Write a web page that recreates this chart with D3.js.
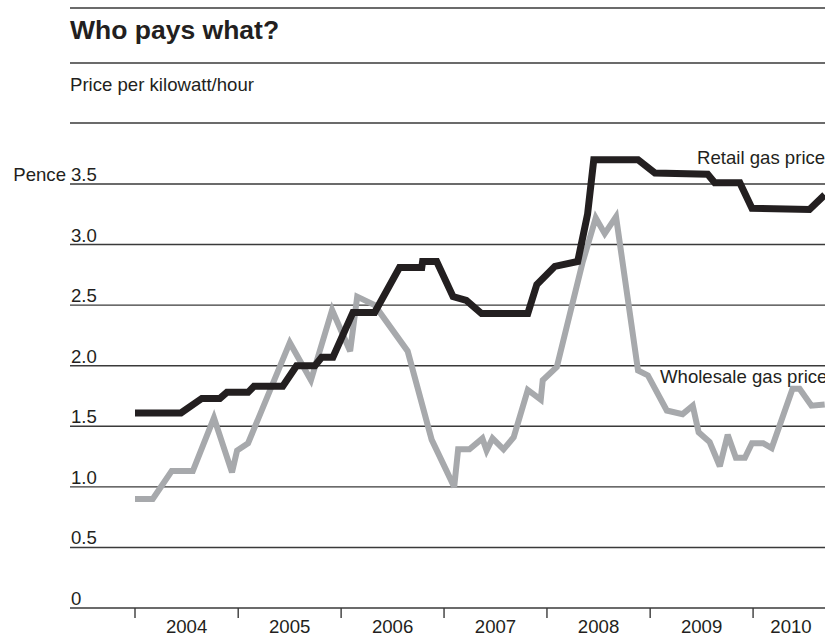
<!DOCTYPE html>
<html>
<head>
<meta charset="utf-8">
<script src="https://cdn.jsdelivr.net/npm/d3@7"></script>
<style>
  html, body { margin: 0; padding: 0; background: #fff; }
  svg { display: block; font-family: "Liberation Sans", Arial, Helvetica, sans-serif; }
</style>
</head>
<body>
<svg id="chart" width="825" height="639"></svg>
<script>
// ---- Data ----
const title = "Who pays what?";
const subtitle = "Price per kilowatt/hour";
const yUnit = "Pence";
const yTicks = [0, 0.5, 1.0, 1.5, 2.0, 2.5, 3.0, 3.5];
const years = [2004, 2005, 2006, 2007, 2008, 2009, 2010];

const retailDates = ["2004-01-01","2004-06-12","2004-08-25","2004-10-28","2004-11-22","2005-02-05","2005-02-26","2005-06-08","2005-07-27","2005-09-30","2005-10-24","2005-12-03","2006-02-12","2006-04-30","2006-07-27","2006-10-14","2006-10-17","2006-12-06","2007-02-02","2007-03-21","2007-05-14","2007-10-25","2007-11-26","2008-01-29","2008-04-19","2008-05-24","2008-06-15","2008-11-19","2009-01-18","2009-07-24","2009-08-18","2009-11-15","2009-12-28","2010-07-20","2010-09-12"];
const retailValues = [1.61,1.61,1.73,1.73,1.78,1.78,1.83,1.83,2.00,2.00,2.07,2.07,2.44,2.44,2.81,2.81,2.86,2.86,2.57,2.54,2.43,2.43,2.67,2.82,2.86,3.25,3.70,3.70,3.59,3.58,3.51,3.51,3.30,3.29,3.41];

const wholesaleDates = ["2004-01-01","2004-03-04","2004-05-10","2004-07-24","2004-10-07","2004-12-10","2004-12-28","2005-02-05","2005-07-03","2005-09-16","2005-11-30","2006-02-02","2006-02-27","2006-04-30","2006-08-25","2006-11-18","2007-02-06","2007-02-20","2007-04-01","2007-05-17","2007-06-01","2007-06-22","2007-07-31","2007-09-05","2007-10-25","2007-12-10","2007-12-17","2008-02-05","2008-05-06","2008-06-22","2008-07-24","2008-09-02","2008-11-19","2008-12-24","2009-03-01","2009-04-26","2009-06-01","2009-06-22","2009-07-31","2009-09-05","2009-10-03","2009-11-01","2009-12-03","2009-12-28","2010-02-06","2010-03-08","2010-05-21","2010-06-15","2010-07-27","2010-09-12"];
const wholesaleValues = [0.90,0.90,1.13,1.13,1.57,1.12,1.30,1.36,2.19,1.88,2.46,2.12,2.57,2.50,2.12,1.39,1.00,1.31,1.31,1.40,1.30,1.40,1.31,1.41,1.80,1.72,1.88,1.99,2.85,3.22,3.09,3.23,1.96,1.92,1.63,1.60,1.67,1.45,1.37,1.17,1.43,1.24,1.24,1.36,1.36,1.32,1.81,1.81,1.67,1.68];

const seriesLabels = ["Retail gas price", "Wholesale gas price"];

// ---- Drawing ----
const W = 825, H = 639;
const svg = d3.select("#chart");
const parse = d3.timeParse("%Y-%m-%d");
const ink = "#231f20";
const ruleColor = "#3a3a3a";
const fs = 18.6;

const x = d3.scaleTime()
  .domain([new Date(2004, 0, 1), new Date(2011, 0, 1)])
  .range([135, 856]);
const y = d3.scaleLinear().domain([0, 3.5]).range([608, 184]);

// header rules
[8, 63, 123].forEach(yy => {
  svg.append("line").attr("x1", 70).attr("x2", W).attr("y1", yy).attr("y2", yy)
    .attr("stroke", ruleColor).attr("stroke-width", 1.4);
});
svg.append("text").attr("x", 70).attr("y", 39)
  .attr("font-size", 26.5).attr("font-weight", "bold").attr("fill", ink).text(title);
svg.append("text").attr("x", 70).attr("y", 91)
  .attr("font-size", fs).attr("fill", ink).text(subtitle);

// gridlines + labels
const grid = svg.append("g");
yTicks.forEach(v => {
  grid.append("line").attr("x1", 70).attr("x2", W).attr("y1", y(v)).attr("y2", y(v))
    .attr("stroke", ruleColor).attr("stroke-width", 1.4);
  grid.append("text").attr("x", 71).attr("y", y(v) - 3)
    .attr("font-size", fs).attr("fill", ink)
    .text(v === 0 ? "0" : d3.format(".1f")(v));
});
svg.append("text").attr("x", 66).attr("y", y(3.5) - 3)
  .attr("text-anchor", "end").attr("font-size", fs).attr("fill", ink).text(yUnit);

// x ticks and year labels
years.forEach(yr => {
  const x0 = x(new Date(yr, 0, 1));
  const x1 = Math.min(x(new Date(yr + 1, 0, 1)), W + 4);
  svg.append("line").attr("x1", x0).attr("x2", x0).attr("y1", y(0)).attr("y2", y(0) + 10)
    .attr("stroke", ruleColor).attr("stroke-width", 1.4);
  svg.append("text").attr("x", (x0 + x1) / 2).attr("y", 633)
    .attr("text-anchor", "middle").attr("font-size", fs).attr("fill", ink).text(yr);
});

// lines
const line = d3.line().x(d => x(d.date)).y(d => y(d.value));
const wholesale = wholesaleDates.map((d, i) => ({ date: parse(d), value: wholesaleValues[i] }));
const retail = retailDates.map((d, i) => ({ date: parse(d), value: retailValues[i] }));

svg.append("path").datum(wholesale).attr("d", line)
  .attr("fill", "none").attr("stroke", "#a7a9ac").attr("stroke-width", 6)
  .attr("stroke-linejoin", "miter").attr("stroke-miterlimit", 3);
svg.append("path").datum(retail).attr("d", line)
  .attr("fill", "none").attr("stroke", ink).attr("stroke-width", 7)
  .attr("stroke-linejoin", "miter").attr("stroke-miterlimit", 3);

// series labels
svg.append("text").attr("x", 697).attr("y", 164)
  .attr("font-size", fs).attr("fill", ink).text(seriesLabels[0]);
svg.append("text").attr("x", 660).attr("y", 383)
  .attr("font-size", fs).attr("fill", ink).text(seriesLabels[1]);
</script>
</body>
</html>
